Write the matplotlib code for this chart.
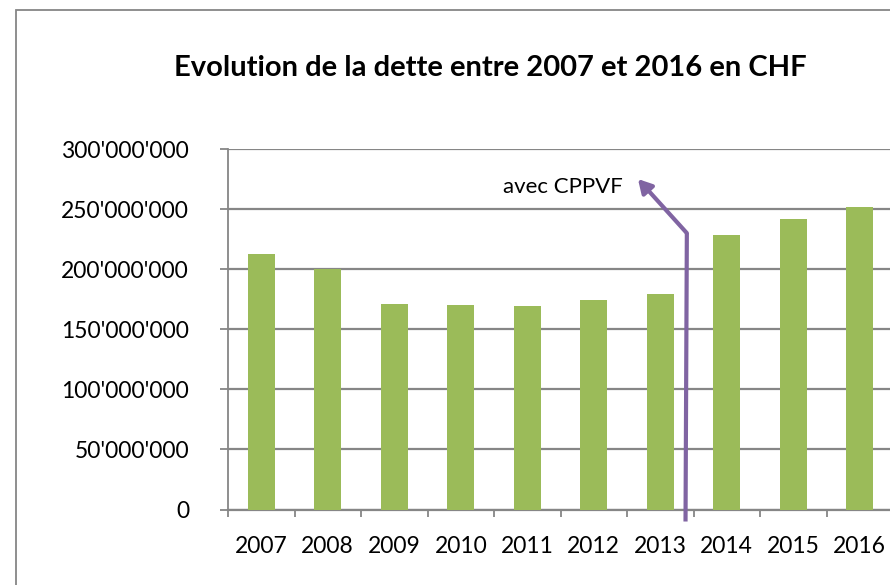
import matplotlib
matplotlib.use("Agg")
import matplotlib.pyplot as plt
from matplotlib.patches import Rectangle
import numpy as np

years = ["2007", "2008", "2009", "2010", "2011", "2012", "2013", "2014", "2015", "2016"]
dette = [212.5e6, 200.5e6, 170.8e6, 170.0e6, 169.0e6, 174.4e6, 179.0e6, 228.6e6, 241.7e6, 252.0e6]
y_ticks = [0, 50e6, 100e6, 150e6, 200e6, 250e6, 300e6]
title = "Evolution de la dette entre 2007 et 2016 en CHF"
annot_text = "avec CPPVF"
# annotation path (data coordinates: x in category index, y in CHF)
arrow_path_x = [6.38, 6.40, 5.665]
arrow_path_y = [-10e6, 230e6, 275e6]
annot_xy = (4.54, 268e6)

plt.rcParams['font.family'] = ['Lato', 'DejaVu Sans']

W, H = 890, 585
fig = plt.figure(figsize=(W / 100, H / 100), dpi=100)
fig.patch.set_facecolor("white")

gray = "#868686"
green = "#9BBB59"
purple = "#8064A2"

# chart border (cropped at right/bottom)
fig.patches.append(Rectangle((16 / W, -0.1), 1.2, 1 - 10 / H + 0.1, transform=fig.transFigure,
                             fill=False, edgecolor=gray, linewidth=1.3))

ax = fig.add_axes([228 / W, 1 - 509.5 / H, 665 / W, (509.5 - 149) / H])
x = np.arange(len(years))
ax.bar(x, dette, width=0.41, color=green, zorder=3)

ax.set_xlim(-0.5, len(years) - 0.5)
ax.set_ylim(0, 300e6)
ax.set_yticks(y_ticks)
ax.set_yticklabels([f"{int(v):,}".replace(",", "'") for v in y_ticks], fontsize=16.5)
ax.set_xticks(x)
ax.set_xticklabels(years, fontsize=16.5)
ax.set_xticks(np.arange(-0.5, len(years)), minor=True)
ax.tick_params(axis="x", which="major", length=0, pad=19)
ax.tick_params(axis="x", which="minor", length=5, color=gray, width=1.3, direction="out")
ax.tick_params(axis="y", which="major", length=6, color=gray, width=1.3, pad=22)

ax.grid(axis="y", color=gray, linewidth=1.6, zorder=0)
ax.set_axisbelow(True)
for s in ["top", "right"]:
    ax.spines[s].set_visible(False)
ax.spines["left"].set_color(gray)
ax.spines["left"].set_linewidth(1.3)
ax.spines["bottom"].set_color(gray)
ax.spines["bottom"].set_linewidth(1.6)

# annotation arrow
ax.plot(arrow_path_x[:2], arrow_path_y[:2], color=purple, linewidth=3, clip_on=False,
        zorder=5, solid_capstyle="butt")
ax.annotate("", xy=(arrow_path_x[2], arrow_path_y[2]), xytext=(arrow_path_x[1], arrow_path_y[1]),
            arrowprops=dict(arrowstyle="-|>,head_length=0.8,head_width=0.45", color=purple,
                            linewidth=3, shrinkA=0, shrinkB=0),
            annotation_clip=False, zorder=5)
ax.text(annot_xy[0], annot_xy[1], annot_text, ha="center", va="center", fontsize=16,
        zorder=6, clip_on=False)

fig.text(490 / W, 1 - 68 / H, title, ha="center", va="center", fontsize=21, fontweight="bold")

fig.savefig("out.png", dpi=100)
